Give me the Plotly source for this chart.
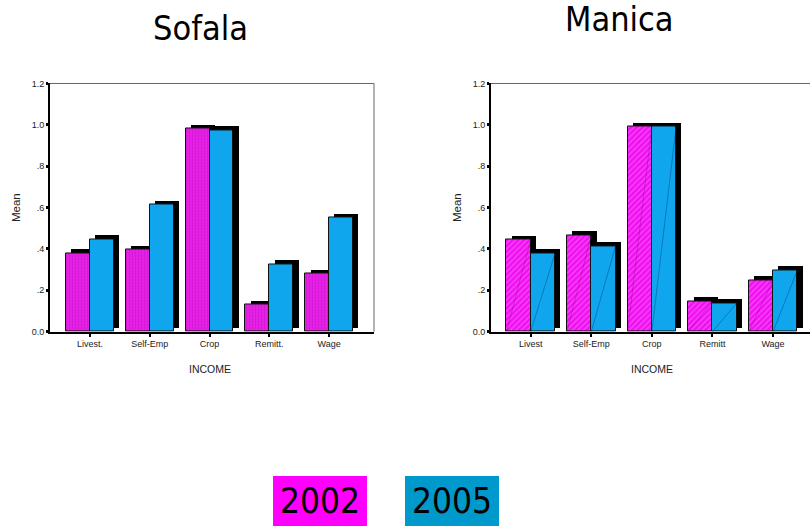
import plotly.graph_objects as go

# Mean share of households with each income source, by province and survey year
categories_sofala = ["Livest.", "Self-Emp", "Crop", "Remitt.", "Wage"]
categories_manica = ["Livest", "Self-Emp", "Crop", "Remitt", "Wage"]

sofala_2002 = [0.380, 0.396, 0.981, 0.131, 0.279]
sofala_2005 = [0.448, 0.614, 0.974, 0.326, 0.551]

manica_2002 = [0.444, 0.466, 0.991, 0.146, 0.248]
manica_2005 = [0.378, 0.413, 0.990, 0.138, 0.296]

y_tick_vals = [0.0, 0.2, 0.4, 0.6, 0.8, 1.0, 1.2]
y_tick_text = ["0.0", ".2", ".4", ".6", ".8", "1.0", "1.2"]

years = ["2002", "2005"]

BAR_W = 0.4          # bar width in category units
SHADOW_DX = 0.088    # drop-shadow offset to the right (category units)
SHADOW_DY = 0.017    # drop-shadow offset upwards (value units)

BLUE = "#0fa6ee"
TICK_FONT = dict(family="Liberation Sans, Arial, sans-serif", size=9, color="#222")
TITLE_FONT = "DejaVu Sans Condensed, DejaVu Sans, sans-serif"

fig = go.Figure()


def add_panel(xa, ya, cats, v02, v05, pink_pattern, diagonals):
    idx = list(range(len(cats)))
    # black drop shadows sit behind each pair of bars
    for vals, off in ((v02, -BAR_W), (v05, 0.0)):
        fig.add_trace(go.Bar(
            x=idx, y=vals, base=[SHADOW_DY] * len(vals),
            offset=off + SHADOW_DX, width=BAR_W,
            marker=dict(color="black", line=dict(width=0)),
            xaxis=xa, yaxis=ya, showlegend=False, hoverinfo="skip"))
    fig.add_trace(go.Bar(
        x=idx, y=v02, offset=-BAR_W, width=BAR_W, name=years[0],
        marker=dict(color=pink_pattern["bgcolor"], pattern=pink_pattern,
                    line=dict(color="#111", width=1)),
        xaxis=xa, yaxis=ya, showlegend=False))
    fig.add_trace(go.Bar(
        x=idx, y=v05, offset=0.0, width=BAR_W, name=years[1],
        marker=dict(color=BLUE, line=dict(color="#111", width=1)),
        xaxis=xa, yaxis=ya, showlegend=False))
    if diagonals:
        # thin corner-to-corner strokes drawn across each bar
        for vals, off, col in ((v02, -BAR_W, "rgba(120,0,120,0.55)"),
                               (v05, 0.0, "rgba(0,40,90,0.6)")):
            xs, ys = [], []
            for i, v in zip(idx, vals):
                xs += [i + off, i + off + BAR_W, None]
                ys += [0, v, None]
            fig.add_trace(go.Scatter(
                x=xs, y=ys, mode="lines", line=dict(color=col, width=0.6),
                xaxis=xa, yaxis=ya, showlegend=False, hoverinfo="skip"))


add_panel("x", "y", categories_sofala, sofala_2002, sofala_2005,
          dict(shape=".", bgcolor="#ee22ee", fgcolor="#b010b0", size=3, solidity=0.45),
          diagonals=False)
add_panel("x2", "y2", categories_manica, manica_2002, manica_2005,
          dict(shape="/", bgcolor="#f010f0", fgcolor="#ff80ff", size=4, solidity=0.35),
          diagonals=True)

W, H = 810, 526
y_dom = [(H - 333) / H, (H - 80) / H]


def xaxis_cfg(domain, rng, cats, anchor):
    return dict(domain=domain, range=rng, tickvals=list(range(len(cats))), ticktext=cats,
                showline=True, linecolor="black", linewidth=2, ticks="outside",
                ticklen=3, tickwidth=1.5, tickcolor="black", showgrid=False,
                zeroline=False, tickfont=dict(TICK_FONT, size=9), anchor=anchor,
                fixedrange=True)


def yaxis_cfg(anchor):
    return dict(domain=y_dom, range=[0, 1.2], tickvals=y_tick_vals, ticktext=y_tick_text,
                showline=True, linecolor="black", linewidth=2, ticks="outside",
                ticklen=2, tickwidth=2.5, tickcolor="black", showgrid=False,
                zeroline=False, tickfont=TICK_FONT, anchor=anchor, fixedrange=True)


fig.update_layout(
    width=W, height=H, margin=dict(l=0, r=0, t=0, b=0),
    paper_bgcolor="white", plot_bgcolor="white",
    barmode="overlay", bargap=0, showlegend=False,
    xaxis=xaxis_cfg([50 / W, 374 / W], [-0.669, 4.75], categories_sofala, "y"),
    yaxis=yaxis_cfg("x"),
    xaxis2=xaxis_cfg([491 / W, 1.0], [-0.655, 4.61], categories_manica, "y2"),
    yaxis2=yaxis_cfg("x2"),
)

# light frame along the top (and right side where visible) of each plot area
frame = dict(type="line", line=dict(color="#666", width=1))
fig.add_shape(frame, xref="x domain", yref="y domain", x0=0, x1=1, y0=1, y1=1)
fig.add_shape(frame, xref="x domain", yref="y domain", x0=1, x1=1, y0=0, y1=1)
fig.add_shape(frame, xref="x2 domain", yref="y2 domain", x0=0, x1=1, y0=1, y1=1)

label_font = dict(family="Liberation Sans, Arial, sans-serif", size=10.5, color="#222")
for cx, title, ty in ((200.5, "Sofala", 23), (619, "Manica", 14)):
    fig.add_annotation(text=title, x=cx / W, y=1 - ty / H, xref="paper", yref="paper",
                       showarrow=False, xanchor="center", yanchor="middle",
                       font=dict(family=TITLE_FONT, size=34, color="black"))
for cx in (210, 652):
    fig.add_annotation(text="INCOME", x=cx / W, y=1 - 371 / H, xref="paper", yref="paper",
                       showarrow=False, xanchor="center", yanchor="middle", font=label_font)
for cx in (16, 457):
    fig.add_annotation(text="Mean", x=cx / W, y=1 - 207 / H, xref="paper", yref="paper",
                       showarrow=False, xanchor="center", yanchor="middle", textangle=-90,
                       font=dict(label_font, size=11.5))

# year key boxes below the charts
for cx, year, col in ((319.7, years[0], "#ff00ff"), (452, years[1], "#0099cc")):
    fig.add_annotation(text=year, x=cx / W, y=1 - 506 / H, xref="paper", yref="paper",
                       showarrow=False, xanchor="center", yanchor="middle",
                       width=94, height=50, bgcolor=col, borderpad=0, borderwidth=0,
                       align="center", valign="middle",
                       font=dict(family=TITLE_FONT, size=35, color="black"))

fig.write_html("out.html")
